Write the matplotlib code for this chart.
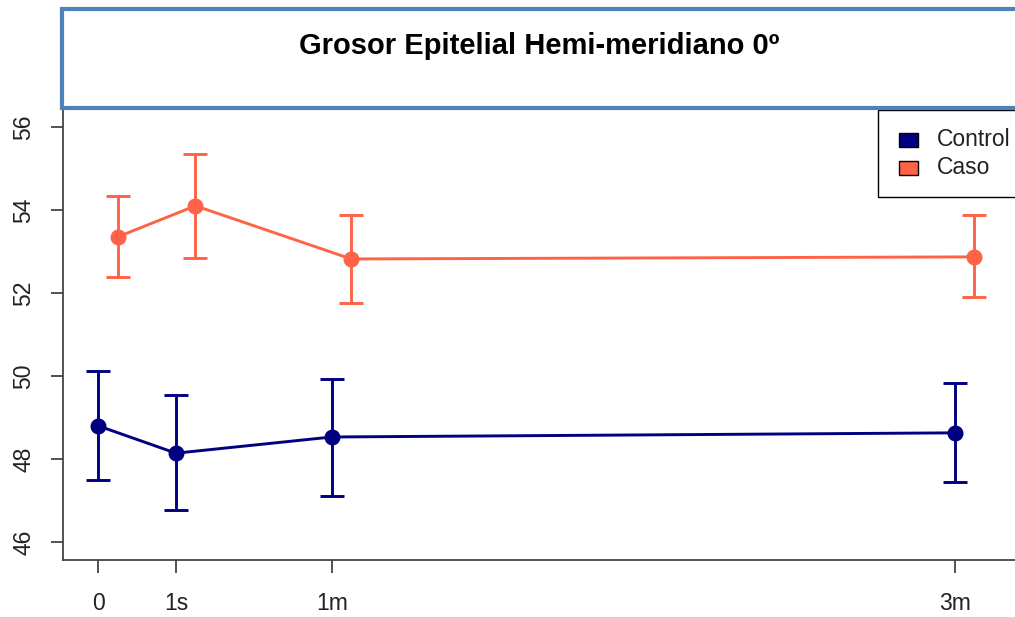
import matplotlib
matplotlib.use("Agg")
import matplotlib.pyplot as plt
from matplotlib.patches import Rectangle

plt.rcParams['font.family'] = ['Liberation Sans', 'DejaVu Sans']

# Data
TIME_LABELS = ["0", "1s", "1m", "3m"]
TIME_POS = [0, 1, 3, 11]
CASO_SHIFT = 0.25

control_mean = [48.80, 48.14, 48.53, 48.63]
control_low = [47.49, 46.77, 47.11, 47.45]
control_high = [50.12, 49.54, 49.93, 49.83]

caso_mean = [53.35, 54.10, 52.82, 52.87]
caso_low = [52.39, 52.84, 51.76, 51.90]
caso_high = [54.34, 55.35, 53.88, 53.88]

GROUPS = ["Control", "Caso"]
COLORS = ["#000080", "#FF6347"]
TITLE = "Grosor Epitelial Hemi-meridiano 0º"
Y_TICKS = [46, 48, 50, 52, 54, 56]

W, H = 1015, 617
fig = plt.figure(figsize=(W / 100, H / 100), dpi=100)
ax = fig.add_axes([63 / W, 1 - 560 / H, 1 - 63 / W, (560 - 100) / H])


def draw_group(xs, mean, low, high, color):
    yerr = [[m - l for m, l in zip(mean, low)], [h - m for m, h in zip(mean, high)]]
    ax.errorbar(xs, mean, yerr=yerr, color=color, ecolor=color, lw=2.1,
                elinewidth=2.1, capsize=8.3, capthick=2.1, marker="o",
                markersize=10.5, clip_on=False, zorder=3)


draw_group(TIME_POS, control_mean, control_low, control_high, COLORS[0])
draw_group([x + CASO_SHIFT for x in TIME_POS], caso_mean, caso_low, caso_high, COLORS[1])

ax.set_xlim(-0.45, 11.77)
ax.set_ylim(45.566, 56.65)
ax.set_xticks(TIME_POS)
ax.set_xticklabels(TIME_LABELS)
ax.set_yticks(Y_TICKS)
ax.set_yticklabels([str(t) for t in Y_TICKS], rotation=90, va="center")

for side in ["top", "right"]:
    ax.spines[side].set_visible(False)
for side in ["left", "bottom"]:
    ax.spines[side].set_color("#444444")
    ax.spines[side].set_linewidth(1.3)
ax.tick_params(axis="both", length=9, width=1.3, color="#444444",
               labelsize=16.5, labelcolor="#222222")
ax.tick_params(axis="x", pad=14)
ax.tick_params(axis="y", pad=11)

# Title box over the top of the plot
fig.patches.append(Rectangle((62 / W, 1 - 108 / H), (1040 - 62) / W, (108 - 9) / H,
                             transform=fig.transFigure, facecolor="white",
                             edgecolor="#4F81BD", linewidth=3.0, zorder=10))
fig.text(539 / W, 1 - 46 / H, TITLE, ha="center", va="center",
         fontsize=21, fontweight="bold", zorder=11)

# Legend box (cut off at the right edge like the original)
fig.patches.append(Rectangle((878 / W, 1 - 197 / H), (1040 - 878) / W, (197 - 110) / H,
                             transform=fig.transFigure, facecolor="white",
                             edgecolor="black", linewidth=1.0, zorder=9))
for i, (name, col) in enumerate(zip(GROUPS, COLORS)):
    yc = 140 + i * 28
    fig.patches.append(Rectangle((899 / W, 1 - (yc + 7) / H), 19 / W, 14 / H,
                                 transform=fig.transFigure, facecolor=col,
                                 edgecolor="black", linewidth=1.0, zorder=11))
    fig.text(937 / W, 1 - yc / H, name, ha="left", va="center",
             fontsize=16.5, color="#222222", zorder=11)

fig.savefig("out.png", dpi=100)
